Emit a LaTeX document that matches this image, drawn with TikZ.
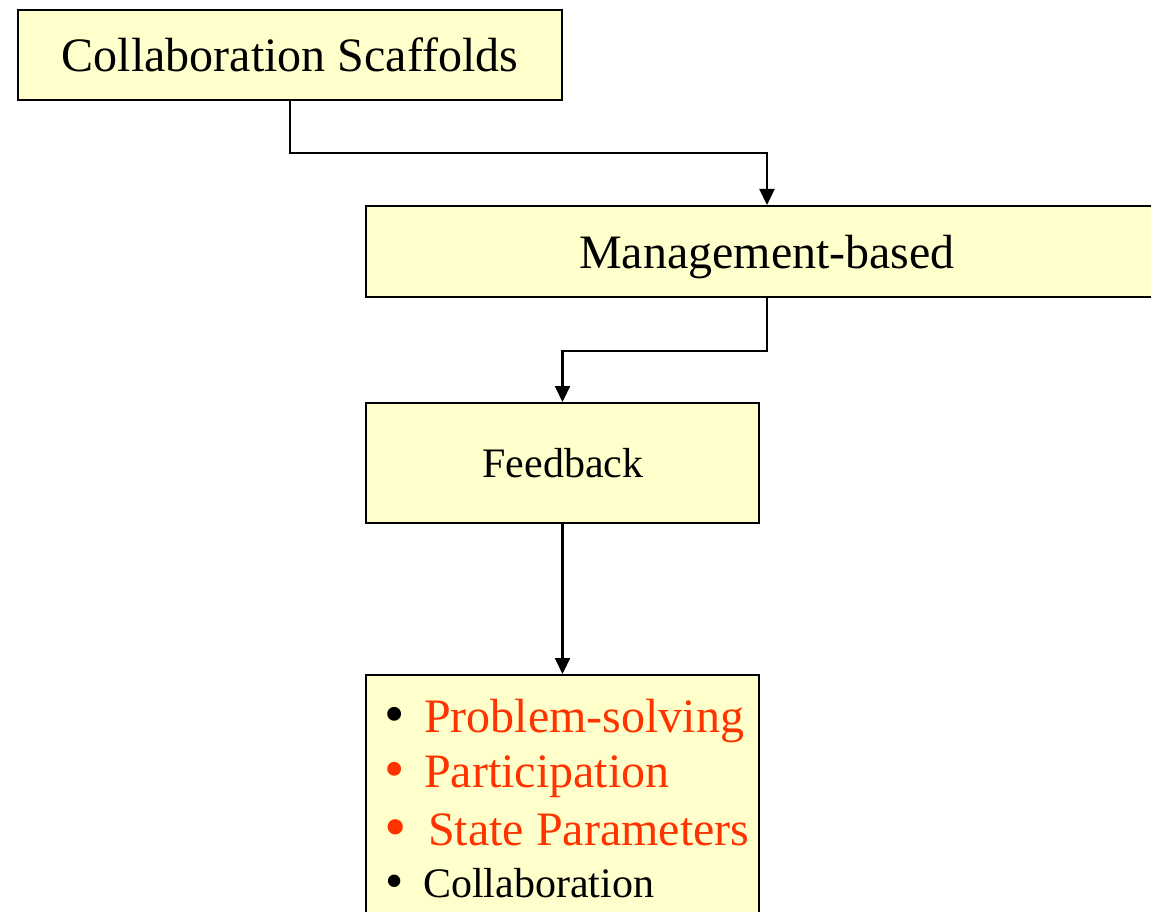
\documentclass[tikz,border=0pt]{standalone}
\usepackage{fontspec}
\setmainfont{Liberation Serif}
\usetikzlibrary{arrows.meta}
\definecolor{boxfill}{HTML}{FFFFCC}
\definecolor{redtext}{HTML}{FF3300}
\begin{document}
\begin{tikzpicture}[x=1pt,y=-1pt,
  box/.style={draw=black, line width=2pt, fill=boxfill, inner sep=0pt},
  conn/.style={line width=2.2pt, -{Triangle[length=16pt,width=15pt]}},
  big/.style={font=\fontsize{48}{56}\selectfont, inner sep=0pt},
  mid/.style={font=\fontsize{42}{50}\selectfont, inner sep=0pt},
  bul/.style={font=\fontsize{#1}{#1}\selectfont, inner sep=0pt, anchor=base west},
  redt/.style={text=redtext}]
\useasboundingbox (0,0) rectangle (1151,912);
\clip (0,0) rectangle (1151,912);
% boxes
\node[box, minimum width=544pt, minimum height=90pt] (cs) at (290,55) {};
\node[box, minimum width=802pt, minimum height=91pt] (mb) at (767,251.5) {};
\node[box, minimum width=393pt, minimum height=120pt] (fb) at (562.5,463) {};
\node[box, minimum width=393pt, minimum height=285pt] (lst) at (562.5,817.5) {};
% labels
\node[big, anchor=base] (cst) at (290,72) {Collaboration Scaffolds};
\node[big, anchor=base] (mbt) at (767,268) {Management-based};
\node[mid, anchor=base] (fbt) at (563,477) {Feedback};
% list
\node[bul=58] (b1) at (384,733) {•};
\node[big, anchor=base west, redt] (t1) at (424,732) {Problem-solving};
\node[bul=58, redt] (b2) at (384,788) {•};
\node[big, anchor=base west, redt] (t2) at (424,787) {Participation};
\node[bul=64, redt] (b3) at (384,848) {•};
\node[big, anchor=base west, redt] (t3) at (428,845) {State Parameters};
\node[bul=52] (b4) at (385,898) {•};
\node[mid, anchor=base west] (t4) at (423,897) {Collaboration};
% connectors
\draw[conn] (cs.south) -- ++(0,52) -| (mb.north);
\draw[conn] (mb.south) -- ++(0,53) -| (fb.north);
\draw[conn] (fb.south) -- (lst.north);
\end{tikzpicture}
\end{document}
